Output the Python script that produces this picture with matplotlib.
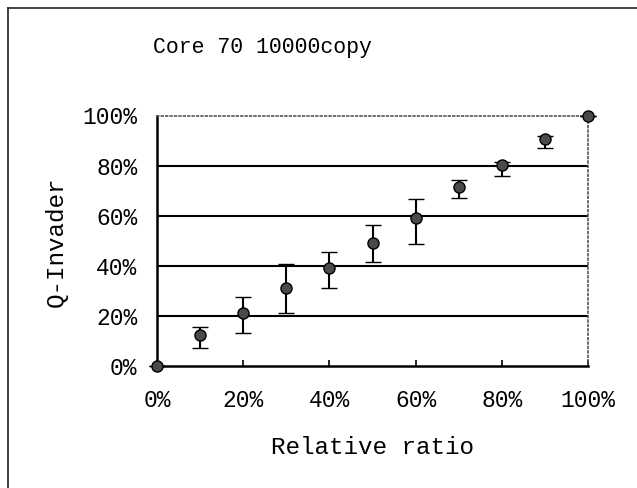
import matplotlib
matplotlib.use("Agg")
import matplotlib.pyplot as plt
from matplotlib.lines import Line2D
from matplotlib.ticker import FuncFormatter

# Data (percent)
ratio = [0, 10, 20, 30, 40, 50, 60, 70, 80, 90, 100]
qinvader = [0, 12.3, 20.9, 31.2, 38.9, 49.2, 58.9, 71.5, 80.2, 90.5, 100]
upper = [0, 15.6, 27.6, 40.5, 45.6, 56.1, 66.5, 74.1, 81.5, 91.8, 100]
lower = [0, 7.2, 13.2, 20.9, 31.2, 41.3, 48.5, 67.1, 75.8, 86.9, 100]

title = "Core 70 10000copy"
xlabel = "Relative ratio"
ylabel = "Q-Invader"
ticks = [0, 20, 40, 60, 80, 100]

font = "Liberation Mono"

W, H = 637, 488
fig = plt.figure(figsize=(W / 100, H / 100), dpi=100)
fig.patch.set_facecolor("white")

# outer frame (only top and left visible within the image)
fig.add_artist(Line2D([8 / W, 1.0], [1 - 8 / H, 1 - 8 / H], transform=fig.transFigure,
                      color="#222222", lw=1.2))
fig.add_artist(Line2D([8 / W, 8 / W], [0.0, 1 - 8 / H], transform=fig.transFigure,
                      color="#222222", lw=1.2))

left, right = 157 / W, 588 / W
bottom, top = 1 - 365.7 / H, 1 - 115.5 / H
ax = fig.add_axes([left, bottom, right - left, top - bottom])

yerr = [[q - l for q, l in zip(qinvader, lower)],
        [u - q for q, u in zip(qinvader, upper)]]

for g in [20, 40, 60, 80]:
    ax.axhline(g, color="black", lw=1.5, zorder=1)

ax.errorbar(ratio, qinvader, yerr=yerr, fmt="o", color="black",
            ecolor="black", elinewidth=1.5, capsize=5.5, capthick=1.5,
            markersize=8, markerfacecolor="#4a4a4a", markeredgecolor="black",
            markeredgewidth=1.0, zorder=3, clip_on=False)

ax.set_xlim(0, 100)
ax.set_ylim(0, 100)
ax.set_xticks(ticks)
ax.set_yticks(ticks)
fmt = FuncFormatter(lambda v, p: f"{int(v)}%")
ax.xaxis.set_major_formatter(fmt)
ax.yaxis.set_major_formatter(fmt)

ax.tick_params(axis="y", length=0, pad=14, labelsize=16.5)
ax.tick_params(axis="x", direction="in", length=4, width=1.2, pad=17, labelsize=16.5)
for lab in ax.get_xticklabels() + ax.get_yticklabels():
    lab.set_fontfamily(font)

ax.spines["left"].set_linewidth(1.8)
ax.spines["bottom"].set_linewidth(1.8)
ax.spines["top"].set_linestyle(":")
ax.spines["top"].set_color("#555555")
ax.spines["top"].set_linewidth(1.2)
ax.spines["right"].set_linestyle(":")
ax.spines["right"].set_color("#555555")
ax.spines["right"].set_linewidth(1.2)

fig.text(262 / W, 1 - 48 / H, title, ha="center", va="center",
         fontsize=15.5, family=font)
fig.text(372 / W, 1 - 447 / H, xlabel, ha="center", va="center",
         fontsize=17.5, family=font)
fig.text(56 / W, 1 - 242 / H, ylabel, ha="center", va="center",
         rotation=90, fontsize=17.5, family=font)

fig.savefig("out.png", dpi=100, facecolor="white")
